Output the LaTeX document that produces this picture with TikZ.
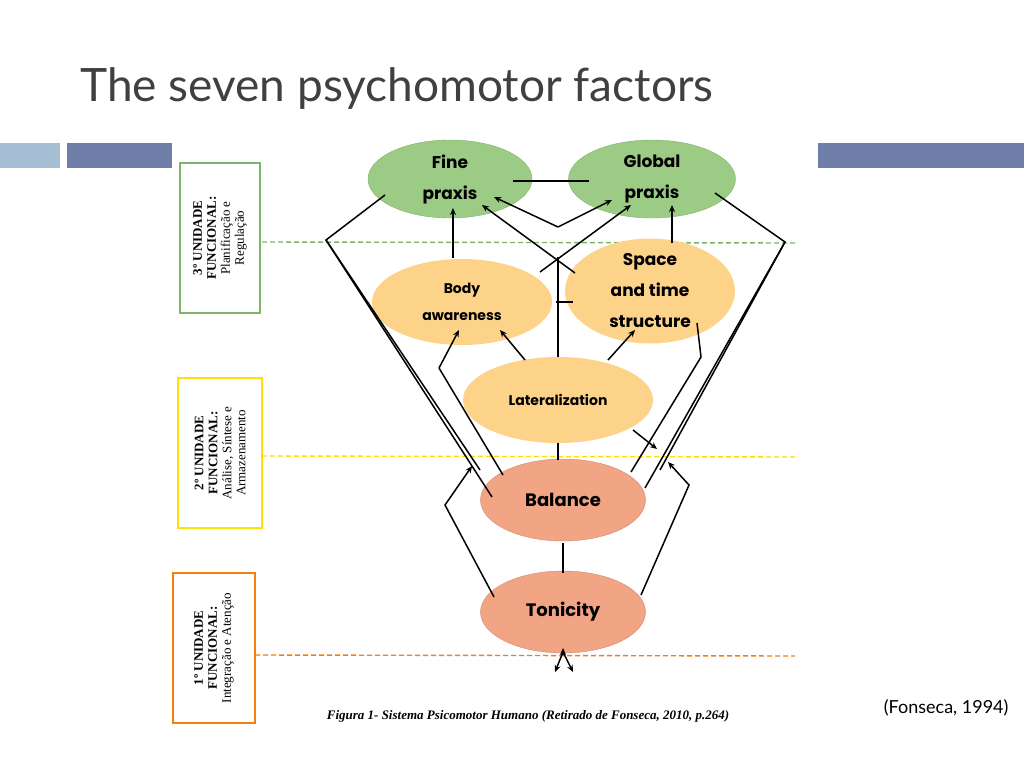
\documentclass[tikz,border=0pt]{standalone}
\usepackage{fontspec}
\setmainfont{Lato}
\newfontfamily\nodefont{Poppins}
\newfontfamily\serifcap{Liberation Serif}
\usetikzlibrary{shapes.geometric,arrows.meta}
\definecolor{gfill}{HTML}{9CCB86}
\definecolor{gdraw}{HTML}{7FB56A}
\definecolor{yfill}{HTML}{FDD38A}
\definecolor{ofill}{HTML}{F2A585}
\definecolor{titlec}{HTML}{404040}
\definecolor{bar1}{HTML}{A5BED3}
\definecolor{bar2}{HTML}{6F7FAA}
\tikzset{
  ell/.style={ellipse, inner sep=0pt, font=\nodefont\bfseries, align=center},
  gell/.style={ell, fill=gfill, draw=gdraw},
  yell/.style={ell, fill=yfill},
  oell/.style={ell, fill=ofill, draw=ofill!85!black},
  ln/.style={line width=1.5pt, black},
  ar/.style={ln, -{Stealth[length=7pt,width=6pt]}},
  unit/.style={draw, line width=1.5pt, fill=white},
  utext/.style={rotate=90, font=\serifcap\fontsize{13}{14}\selectfont, align=center},
  dl/.style={dashed, line width=1.4pt, dash pattern=on 5pt off 3pt}
}
\begin{document}
\begin{tikzpicture}[x=1pt,y=-1pt]
\useasboundingbox (0,0) rectangle (1024,768);
\fill[white] (0,0) rectangle (1024,768);
\node[anchor=base west, font=\fontsize{46}{50}\selectfont, text=titlec, inner sep=0] (title) at (80,101) {The seven psychomotor factors};
\fill[bar1] (0,143) rectangle (60,168);
\fill[bar2] (67,143) rectangle (172,168);
\fill[bar2] (818,143) rectangle (1024,168);

% level boxes
\node[unit, draw=gdraw, minimum width=80pt, minimum height=150pt] (u3) at (220,238) {};
\node[utext] (u3t) at (220,238) {\textbf{3º UNIDADE}\\ \textbf{FUNCIONAL:}\\ Planificação e\\ Regulação};
\node[unit, draw=yellow!85!orange, minimum width=84pt, minimum height=150pt] (u2) at (220,453) {};
\node[utext] (u2t) at (220,453) {\textbf{2º UNIDADE}\\ \textbf{FUNCIONAL:}\\ Análise, Síntese e\\ Armazenamento};
\node[unit, draw=orange!80!brown, minimum width=82pt, minimum height=150pt] (u1) at (214,648) {};
\node[utext] (u1t) at (214,648) {\textbf{1º UNIDADE}\\ \textbf{FUNCIONAL:}\\ Integração e Atenção};

\draw[dl, draw=gdraw] (262,242) -- (795,243);
\draw[dl, draw=yellow!80!orange] (262,456) -- (795,457);
\draw[dl, draw=orange!70!brown] (255,655) -- (795,656);

% nodes
\node[gell, minimum width=164pt, minimum height=78pt, font=\nodefont\bfseries\fontsize{17}{31}\selectfont] (fine) at (450,179) {Fine\\praxis};
\node[gell, minimum width=167pt, minimum height=78pt, font=\nodefont\bfseries\fontsize{17}{31}\selectfont] (glob) at (652,179) {Global\\praxis};
\node[yell, minimum width=180pt, minimum height=86pt, font=\nodefont\bfseries\fontsize{14}{27}\selectfont] (body) at (462,302) {Body\\awareness};
\node[yell, minimum width=170pt, minimum height=96pt, font=\nodefont\bfseries\fontsize{17}{31}\selectfont] (space) at (650,291) {Space\\and time\\structure};
\node[yell, minimum width=190pt, minimum height=86pt, font=\nodefont\bfseries\fontsize{14}{17}\selectfont] (lat) at (558,400) {Lateralization};
\node[oell, minimum width=165pt, minimum height=82pt, font=\nodefont\bfseries\fontsize{18}{22}\selectfont] (bal) at (563,500) {Balance};
\node[oell, minimum width=165pt, minimum height=82pt, font=\nodefont\bfseries\fontsize{18}{22}\selectfont] (ton) at (563,612) {Tonicity};

\coordinate (lv) at (326,240);
\coordinate (rv) at (785,242);
\coordinate (vm) at (558,227);
\coordinate (bl) at (439,368);
\coordinate (sr) at (701,357);
\coordinate (tl) at (445,505);
\coordinate (tr) at (689,485);
\coordinate (bot) at (563,648);

% connectors
\draw[ln] (513,181) -- (589,181);
\draw[ar] (vm) -- (494,197);
\draw[ar] (vm) -- (612,200);
\draw[ar] (453,258) -- (453,208);
\draw[ar] (672,243) -- (672,205);
\draw[ar] (540,272) -- (631,205);
\draw[ar] (575,273) -- (482,205);
\draw[ln] (556,302) -- (573,302);
\draw[ln] (558,357) -- (558,257);
\draw[ar] (525,360) -- (500,330);
\draw[ar] (608,360) -- (635,330);
\draw[ar] (bl) -- (459,330);
\draw[ln] (bl) -- (503,475);
\draw[ln] (385,195) -- (lv) -- (492,497);
\draw[ln] (lv) -- (480,470);
\draw[ln] (715,193) -- (rv) -- (645,488);
\draw[ln] (rv) -- (660,470);
\draw[ln] (697,323) -- (sr) -- (631,472);
\draw[ar] (633,430) -- (657,449);
\draw[ln] (558,443) -- (558,460);
\draw[ln] (563,543) -- (563,573);
\draw[ar] (494,597) -- (tl) -- (472,466);
\draw[ar] (641,595) -- (tr) -- (668,462);
\draw[ar] (563,655) -- (bot);
\draw[ar] (563,652) -- (555,672);
\draw[ar] (563,652) -- (573,672);

\node[font=\serifcap\itshape\bfseries\fontsize{13}{15}\selectfont] (cap) at (528,716) {Figura 1- Sistema Psicomotor Humano (Retirado de Fonseca, 2010, p.264)};
\node[font=\fontsize{18}{20}\selectfont, anchor=east] (ref) at (1012,708) {(Fonseca, 1994)};
\end{tikzpicture}
\end{document}
